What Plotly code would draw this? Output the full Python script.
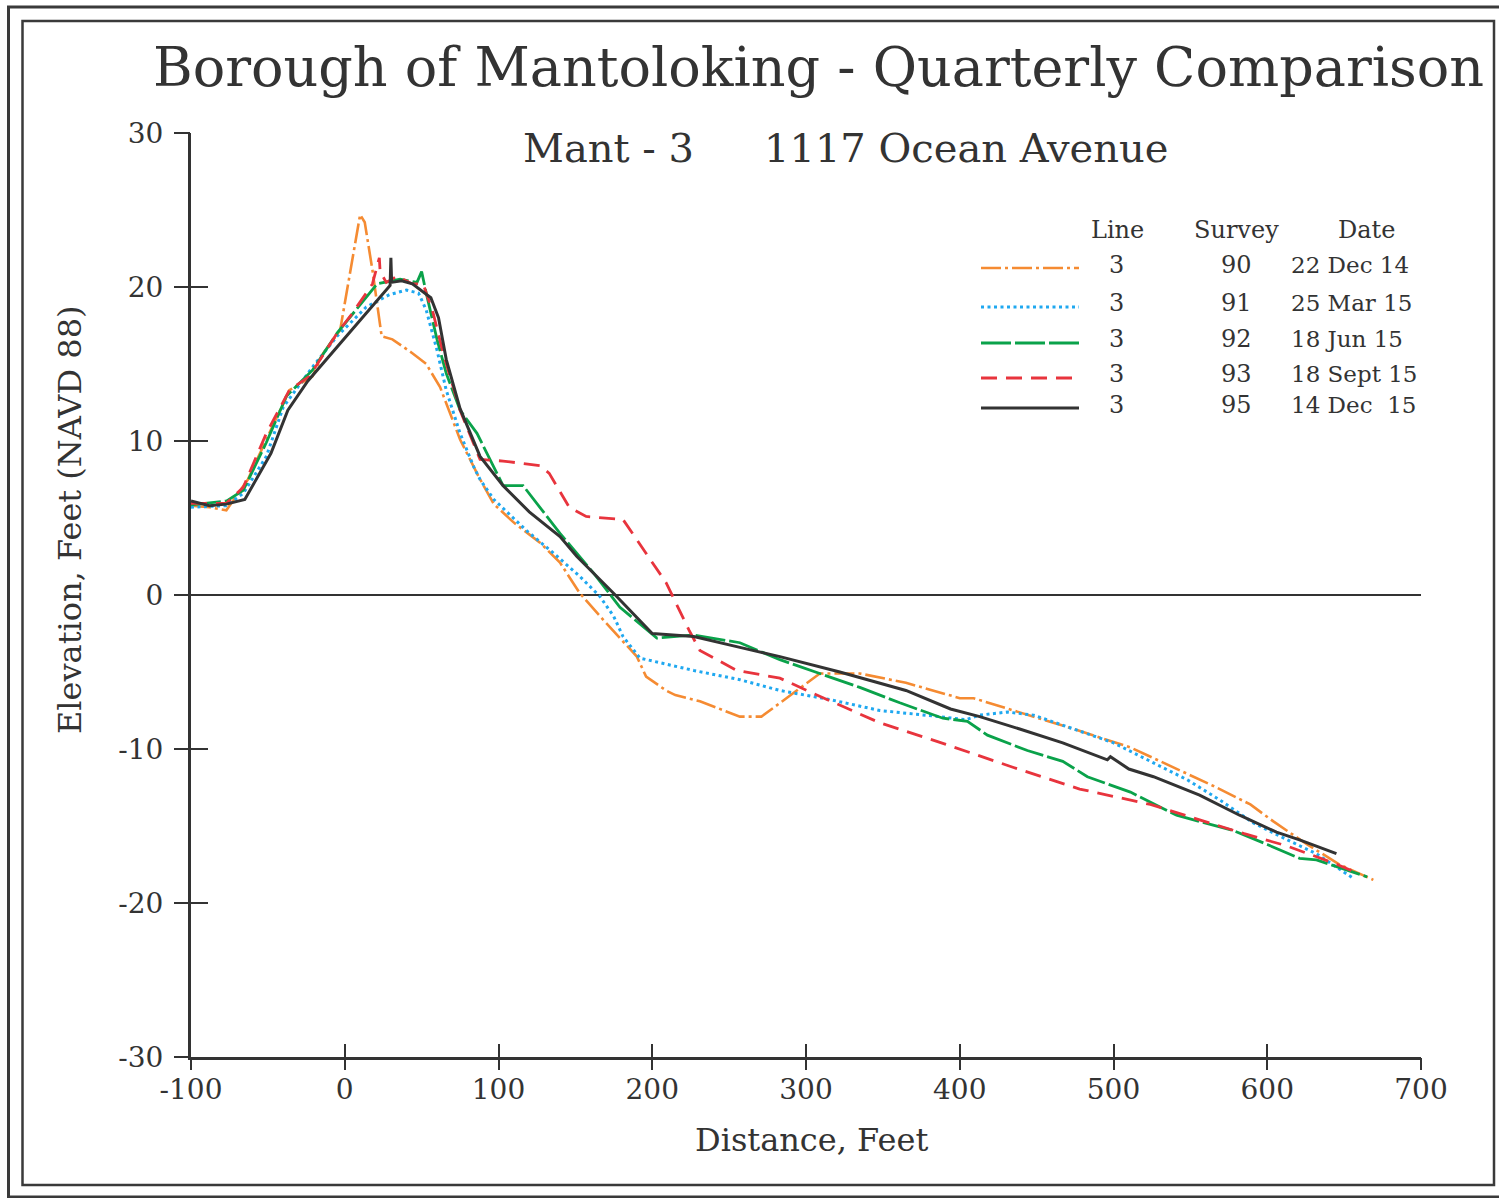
import plotly.graph_objects as go

# ---------------- data ----------------
dist_90 = [-100, -88, -77, -63, -51, -36, -21, -14, -3, 10, 13, 18, 24, 31, 44, 53, 62, 75, 87, 97, 110, 127,
           140, 153, 168, 190, 196, 209, 215, 231, 257, 271, 309, 335, 365, 400, 409, 435, 474, 511, 541, 565,
           589, 604, 626, 647, 669]
elev_90 = [5.8, 5.7, 5.5, 7.5, 10.1, 13.3, 14.2, 15.7, 17.2, 24.7, 24.2, 21.1, 16.8, 16.6, 15.7, 15.0, 13.5, 10.1,
           7.7, 5.9, 4.7, 3.4, 2.1, 0.1, -1.6, -4.0, -5.3, -6.2, -6.5, -6.9, -7.9, -7.9, -5.1, -5.1, -5.7, -6.7,
           -6.7, -7.5, -8.7, -9.9, -11.3, -12.4, -13.6, -14.7, -16.2, -17.5, -18.5]

dist_91 = [-100, -77, -66, -51, -40, -21, -5, 14, 29, 40, 48, 53, 60, 66, 75, 84, 88, 97, 118, 136, 153, 166,
           175, 181, 192, 205, 227, 257, 283, 316, 348, 387, 404, 413, 431, 448, 474, 500, 522, 548, 569, 591,
           613, 632, 656]
elev_91 = [5.7, 5.8, 6.6, 9.0, 12.2, 14.8, 16.8, 18.7, 19.5, 19.8, 19.6, 18.5, 15.9, 13.3, 10.5, 8.3, 7.5, 6.2,
           4.2, 2.7, 1.2, -0.1, -1.4, -2.7, -4.1, -4.4, -4.9, -5.5, -6.2, -6.8, -7.5, -7.9, -8.1, -7.8, -7.6,
           -7.8, -8.7, -9.6, -10.7, -12.0, -13.3, -14.8, -15.9, -16.8, -18.4]

dist_92 = [-100, -77, -66, -51, -38, -21, -5, 21, 36, 47, 50, 53, 60, 66, 75, 86, 103, 116, 140, 162, 179, 203,
           227, 257, 283, 309, 335, 361, 389, 405, 418, 444, 467, 483, 511, 541, 578, 600, 621, 632, 665]
elev_92 = [5.85, 6.1, 6.8, 9.9, 12.9, 14.6, 17.0, 20.2, 20.5, 20.3, 21.0, 19.6, 16.6, 14.4, 12.0, 10.5, 7.1, 7.1,
           4.0, 1.4, -0.8, -2.8, -2.6, -3.1, -4.2, -5.1, -6.0, -7.0, -8.0, -8.2, -9.1, -10.1, -10.8, -11.8,
           -12.8, -14.3, -15.3, -16.2, -17.1, -17.2, -18.3]

dist_93 = [-100, -77, -66, -51, -36, -23, -5, 5, 18, 21, 22.5, 23, 27, 34, 44, 51, 57.5, 64, 75, 88, 103, 127,
           133, 146, 157, 181, 196, 209, 224, 231, 255, 283, 305, 348, 391, 435, 478, 511, 524, 556, 585, 613,
           643, 655]
elev_93 = [5.95, 5.95, 7.0, 10.5, 13.3, 14.2, 17.0, 18.3, 20.2, 21.3, 21.9, 21.0, 20.3, 20.7, 20.2, 20.2, 18.3,
           15.7, 12.0, 8.8, 8.7, 8.4, 7.9, 5.7, 5.1, 4.9, 2.7, 0.8, -2.3, -3.6, -4.9, -5.4, -6.4, -8.3, -9.7,
           -11.2, -12.6, -13.3, -13.6, -14.6, -15.5, -16.3, -17.4, -17.9]

dist_95 = [-100, -88, -77, -65, -48, -37, -24, 29.5, 30, 30.5, 37, 44, 56, 61, 66, 75, 88, 103, 120, 140, 151,
           175, 200, 227, 257, 283, 322, 365, 394, 413, 439, 467, 496, 498, 510, 526, 556, 582, 606, 621, 645]
elev_95 = [6.1, 5.8, 5.9, 6.2, 9.2, 12.0, 13.9, 20.1, 21.9, 20.3, 20.4, 20.2, 19.3, 18.0, 15.3, 12.1, 9.0, 7.1,
           5.4, 3.8, 2.5, 0.1, -2.5, -2.7, -3.4, -4.0, -5.0, -6.2, -7.4, -7.9, -8.7, -9.6, -10.7, -10.5, -11.3,
           -11.8, -13.0, -14.3, -15.4, -15.9, -16.8]

line_numbers = ["3", "3", "3", "3", "3"]
survey_numbers = ["90", "91", "92", "93", "95"]
survey_dates = ["22 Dec 14", "25 Mar 15", "18 Jun 15", "18 Sept 15", "14 Dec  15"]

x_tick_vals = [-100, 0, 100, 200, 300, 400, 500, 600, 700]
x_tick_text = ["-100", "0", "100", "200", "300", "400", "500", "600", "700"]
y_tick_vals = [-30, -20, -10, 0, 10, 20, 30]
y_tick_text = ["-30", "-20", "-10", "0", "10", "20", "30"]

title_text = "Borough of Mantoloking - Quarterly Comparison"
subtitle_left = "Mant - 3"
subtitle_right = "1117 Ocean Avenue"
x_title = "Distance, Feet"
y_title = "Elevation, Feet (NAVD 88)"

# ---------------- styles ----------------
series = [
    (dist_90, elev_90, "#F58B32", "20px,4px,3px,4px", 2.6),
    (dist_91, elev_91, "#1FA8F0", "3px,3.5px", 3),
    (dist_92, elev_92, "#0AA24A", "30px,4px", 2.8),
    (dist_93, elev_93, "#E8343D", "16px,9px", 2.8),
    (dist_95, elev_95, "#333333", "solid", 3),
]

FONT = "DejaVu Serif"
TXT = "#333333"
W, H = 1499, 1198
L, R, T, B = 191, 1421, 133, 1057


def fx(px):
    return (px - L) / (R - L)


def fy(py):
    return (B - py) / (B - T)


fig = go.Figure()
for (xs, ys, col, dash, w), sv in zip(series, survey_numbers):
    fig.add_trace(go.Scatter(x=xs, y=ys, mode="lines", name=sv,
                             line=dict(color=col, dash=dash, width=w), showlegend=False))

# invisible trace on overlay axes so they render
fig.add_trace(go.Scatter(x=[None], y=[None], xaxis="x2", yaxis="y2", showlegend=False))

axis_common = dict(showgrid=False, linecolor="#333333", linewidth=3, tickcolor="#333333", tickwidth=2)

fig.update_layout(
    width=W, height=H,
    margin=dict(l=L, r=W - R, t=T, b=H - B, pad=0),
    paper_bgcolor="white", plot_bgcolor="white",
    font=dict(family=FONT, color=TXT),
    xaxis=dict(range=[-100, 700], tickvals=x_tick_vals, ticktext=x_tick_text, ticks="inside", ticklen=13,
               showline=True, zeroline=False, tickfont=dict(size=28, family=FONT, color=TXT),
               ticklabelstandoff=5, **axis_common),
    yaxis=dict(range=[-30, 30], tickvals=y_tick_vals, ticktext=y_tick_text, ticks="inside", ticklen=17,
               showline=True, zeroline=True, zerolinecolor="#333333", zerolinewidth=1.5,
               tickfont=dict(size=28, family=FONT, color=TXT), ticklabelstandoff=19, **axis_common),
    xaxis2=dict(range=[-100, 700], tickvals=x_tick_vals, ticks="outside", ticklen=12, showticklabels=False,
                overlaying="x", showline=False, zeroline=False, **axis_common),
    yaxis2=dict(range=[-30, 30], tickvals=y_tick_vals, ticks="outside", ticklen=16, showticklabels=False,
                overlaying="y", showline=False, zeroline=False, **axis_common),
)

ann = []
ann.append(dict(text=title_text, x=fx(818), y=fy(68), font=dict(size=54, family=FONT, color=TXT)))
ann.append(dict(text=subtitle_left, x=fx(608), y=fy(148), font=dict(size=40, family=FONT, color=TXT)))
ann.append(dict(text=subtitle_right, x=fx(966), y=fy(148), font=dict(size=40, family=FONT, color=TXT)))
ann.append(dict(text=x_title, x=fx(811), y=fy(1140), font=dict(size=32, family=FONT, color=TXT)))
ann.append(dict(text=y_title, x=fx(70), y=fy(520), textangle=-90, font=dict(size=32, family=FONT, color=TXT)))

# legend table
LEG = 24
ann.append(dict(text="Line", x=fx(1117), y=fy(230), font=dict(size=LEG, family=FONT, color=TXT)))
ann.append(dict(text="Survey", x=fx(1236), y=fy(230), font=dict(size=LEG, family=FONT, color=TXT)))
ann.append(dict(text="Date", x=fx(1366), y=fy(230), font=dict(size=LEG, family=FONT, color=TXT)))
row_text_y = [265, 303, 339, 374, 405]
row_line_y = [268, 307, 343, 378, 408]
shapes = []
for i, (s, ln, sv, dt) in enumerate(zip(series, line_numbers, survey_numbers, survey_dates)):
    ann.append(dict(text=ln, x=fx(1116), y=fy(row_text_y[i]), font=dict(size=LEG, family=FONT, color=TXT)))
    ann.append(dict(text=sv, x=fx(1236), y=fy(row_text_y[i]), font=dict(size=LEG, family=FONT, color=TXT)))
    ann.append(dict(text=dt.replace("  ", "&nbsp; "), x=fx(1289), y=fy(row_text_y[i]), xanchor="left",
                    font=dict(size=LEG - 1, family=FONT, color=TXT)))
    shapes.append(dict(type="line", xref="paper", yref="paper", x0=fx(981), x1=fx(1079),
                       y0=fy(row_line_y[i]), y1=fy(row_line_y[i]),
                       line=dict(color=s[2], dash=s[3], width=s[4])))

for a in ann:
    a.setdefault("xanchor", "center")
    a.update(xref="paper", yref="paper", yanchor="middle", showarrow=False)

# frames
shapes.append(dict(type="rect", xref="paper", yref="paper", x0=fx(8.5), x1=fx(1530), y0=fy(7), y1=fy(1197),
                   line=dict(color="#3a3a3a", width=3)))
shapes.append(dict(type="rect", xref="paper", yref="paper", x0=fx(22.5), x1=fx(1494), y0=fy(21), y1=fy(1185),
                   line=dict(color="#3a3a3a", width=2.5)))

fig.update_layout(annotations=ann, shapes=shapes)

fig.write_html("out.html", config={"displayModeBar": False},
               post_script="document.body.style.margin='0';document.body.style.overflow='hidden';")
